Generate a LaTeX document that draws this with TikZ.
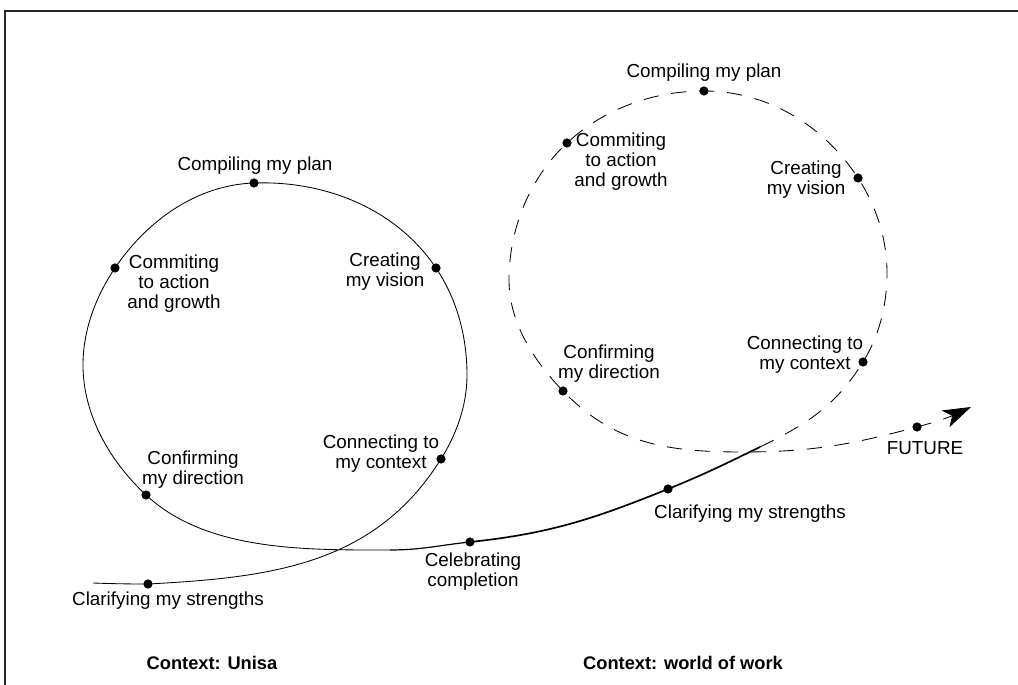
\documentclass[tikz,border=0pt]{standalone}
\usepackage{fontspec}
\setmainfont{Liberation Sans}
\usetikzlibrary{arrows.meta, positioning}

\begin{document}
\begin{tikzpicture}[x=0.25mm, y=0.25mm,
    dot/.style={circle, fill, inner sep=0pt, minimum size=2.3mm},
    stage/.style={align=center, inner sep=0pt, font=\fontsize{13.4}{14.2}\selectfont},
    context/.style={inner sep=0pt, font=\fontsize{13}{14}\selectfont\bfseries},
    thin track/.style={line width=0.6pt},
    mid track/.style={line width=0.85pt},
    thick track/.style={line width=1.2pt},
    dash track/.style={line width=0.6pt, dash pattern=on 3.8mm off 3.2mm}
    ]
    \useasboundingbox (0,0) rectangle (1018,685);

    % frame (top and left edges only)
    \draw[line width=1.3pt, black!85] (5,0) -- (5,674) -- (1018,674);

    % stages on the Unisa loop
    \node[dot] (clar1) at (148,101) {};
    \node[dot] (conn1) at (441,226) {};
    \node[dot] (vis1)  at (436,417) {};
    \node[dot] (plan1) at (254,502) {};
    \node[dot] (comm1) at (115,417) {};
    \node[dot] (conf1) at (146,190) {};
    \node[dot] (cel)   at (470,143) {};
    \node[dot] (clar2) at (668,196) {};

    % stages on the world of work loop
    \node[dot] (conn2) at (863,323) {};
    \node[dot] (vis2)  at (858,507) {};
    \node[dot] (plan2) at (704,594) {};
    \node[dot] (comm2) at (567,542) {};
    \node[dot] (conf2) at (563,294) {};
    \node[dot] (fut)   at (917,258) {};

    % turning points of the spiral
    \coordinate (start)  at (93,102);
    \coordinate (right1) at (467,310);
    \coordinate (left1)  at (83,320);
    \coordinate (low1)   at (390,135);
    \coordinate (join)   at (760,238);
    \coordinate (right2) at (887,412);
    \coordinate (left2)  at (509,405);
    \coordinate (low2)   at (742,233);
    \coordinate (tip)    at (971,278);

    % first loop
    \draw[thin track] (start) to[out=-2,in=180] (clar1.center)
        to[out=3,in=238] (conn1.center)
        to[out=58,in=270,looseness=0.87] (right1)
        to[out=90,in=304,looseness=0.87] (vis1.center)
        to[out=124,in=2,looseness=0.91] (plan1.center)
        to[out=182,in=56,looseness=0.9] (comm1.center)
        to[out=236,in=90,looseness=0.87] (left1)
        to[out=270,in=137,looseness=0.88] (conf1.center)
        to[out=-43,in=180,looseness=0.85] (low1);
    \draw[mid track] (low1) to[out=0,in=186] (cel.center);
    \draw[thick track] (cel.center) to[out=6,in=202] (clar2.center)
        to[out=22,in=206] (join);

    % second loop, running on to the future
    \draw[dash track, -{Stealth[length=7mm, width=4.6mm, inset=1.8mm]}]
        (join) to[out=26,in=238] (conn2.center)
        to[out=58,in=270,looseness=0.87] (right2)
        to[out=90,in=303,looseness=0.87] (vis2.center)
        to[out=123,in=0,looseness=0.91] (plan2.center)
        to[out=180,in=43,looseness=0.88] (comm2.center)
        to[out=223,in=90,looseness=0.88] (left2)
        to[out=270,in=134,looseness=0.88] (conf2.center)
        to[out=-46,in=180] (low2)
        to[out=0,in=195] (fut.center) to[out=15,in=205] (tip);

    % labels
    \node[stage] (plan1-t) at (255,519) {Compiling my plan};
    \node[stage] (comm1-t) at (174,401) {Commiting\\to action\\and growth};
    \node[stage] (vis1-t)  at (385,413) {Creating\\my vision};
    \node[stage] (conn1-t) at (381,231) {Connecting to\\my context};
    \node[stage] (conf1-t) at (193,215) {Confirming\\my direction};
    \node[stage] (clar1-t) at (168,84)  {Clarifying my strengths};
    \node[stage] (cel-t)   at (473,113) {Celebrating\\completion};
    \node[stage] (clar2-t) at (750,171) {Clarifying my strengths};
    \node[stage] (fut-t)   at (925,237) {FUTURE};
    \node[stage] (plan2-t) at (704,612) {Compiling my plan};
    \node[stage] (comm2-t) at (621,523) {Commiting\\to action\\and growth};
    \node[stage] (vis2-t)  at (806,505) {Creating\\my vision};
    \node[stage] (conn2-t) at (805,330) {Connecting to\\my context};
    \node[stage] (conf2-t) at (609,321) {Confirming\\my direction};

    \node[context] (unisa) at (212,22) {Context: Unisa};
    \node[context] (work)  at (683,22) {Context: world of work};
\end{tikzpicture}
\end{document}
